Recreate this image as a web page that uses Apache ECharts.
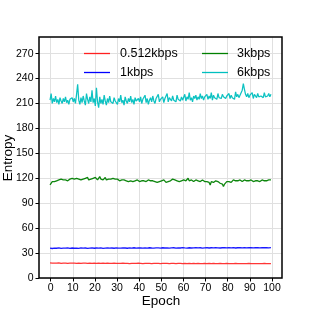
<!DOCTYPE html>
<html><head><meta charset="utf-8">
<script src="https://cdn.jsdelivr.net/npm/echarts@6/dist/echarts.min.js"></script>
<style>html,body{margin:0;padding:0;background:#fff}#c{width:314px;height:314px}</style>
</head><body><div id="c"></div>
<script>
const xTicks = [0,10,20,30,40,50,60,70,80,90,100];
const yTicks = [0,30,60,90,120,150,180,210,240,270];
const seriesNames = ['0.512kbps','1kbps','3kbps','6kbps'];
const epochStepFine = 0.5;
const epochStepCoarse = 1;

const kbps0512 = [18.2,17.9,18.0,17.8,18.1,17.7,17.9,18.0,17.6,17.9,17.8,18.0,17.7,17.9,17.6,17.8,18.0,17.7,17.8,17.6,17.9,17.7,17.8,17.5,17.8,17.6,17.9,17.7,17.5,17.8,17.6,17.7,17.5,17.8,17.6,17.7,17.4,17.7,17.6,17.5,17.8,17.6,17.4,17.7,17.5,17.6,17.4,17.7,17.5,17.6,17.4,17.6,17.5,17.7,17.4,17.6,17.5,17.3,17.6,17.5,17.4,17.6,17.3,17.5,17.4,17.6,17.3,17.5,17.4,17.3,17.5,17.4,17.6,17.3,17.5,17.4,17.2,17.5,17.3,17.4,17.5,17.3,17.4,17.2,17.5,17.3,17.4,17.2,17.4,17.3,17.5,17.2,17.4,17.3,17.2,17.4,17.3,17.5,17.2,17.4,17.3];

const kbps1 = [36.0,35.5,36.0,35.8,36.2,35.6,36.0,35.9,36.3,35.7,36.1,35.8,36.0,35.6,36.2,35.9,36.1,35.7,36.0,36.3,35.8,36.1,35.9,36.2,35.7,36.0,36.3,35.9,36.1,35.8,36.2,36.0,35.9,36.3,36.1,35.8,36.2,36.0,36.4,35.9,36.1,36.3,36.0,36.2,35.9,36.4,36.1,36.0,36.3,36.2,36.0,36.4,36.1,36.3,35.9,36.2,36.4,36.0,36.3,36.1,36.5,36.2,36.0,36.4,36.1,36.3,36.5,36.2,36.4,36.0,36.3,36.5,36.1,36.4,36.2,36.5,36.3,36.1,36.4,36.6,36.2,36.4,36.3,36.5,36.1,36.4,36.6,36.3,36.5,36.2,36.4,36.6,36.3,36.5,36.4,36.2,36.6,36.4,36.5,36.3,36.5];

const kbps3 = [
112,114,116,117,116,118,117,116,118,117,119,117,118,116,118,119,117,118,119,118,120,
118,119,117,120,118,119,121,118,120,119,118,120,119,121,118,120,119,118,120,119,
121,119,118,120,122,119,120,118,119,121,118,120,119,117,119,118,120,118,119,117,
119,118,117,119,118,116,118,119,117,118,116,118,117,119,116,118,117,116,118,117,
116,118,117,115,117,118,116,117,118,116,117,115,117,118,116,117,115,117,116,118,
117,116,118,117,115,117,116,118,117,116,119,117,118,116,117,119,116,118,117,116,
118,119,117,118,120,117,116,118,117,116,117,118,116,117,118,116,117,118,117,116,
117,116,118,115,112,116,117,115,116,117,115,116,117,114,116,113,110,113,115,116,
118,116,117,115,117,118,116,117,115,117,116,118,117,116,117,118,116,117,115,117,
116,118,117,116,118,117,115,117,118,116,117,118,116,117,119,117,116,118,117,118];

const kbps6 = [
214,222,210,216,212,219,211,215,209,217,213,210,216,212,218,211,214,209,215,213,217,
212,216,210,221,233,214,209,217,211,219,213,208,222,215,210,218,212,226,211,216,
207,229,212,205,218,210,215,209,220,213,208,216,211,219,212,214,210,217,213,215,
209,216,212,220,211,214,208,218,213,210,216,212,219,211,215,209,217,213,211,216,
212,218,210,215,213,220,211,216,209,214,217,212,219,213,210,216,214,221,212,215,
213,218,211,216,214,222,212,217,215,213,219,214,216,212,220,215,217,213,218,214,
216,221,213,218,215,223,214,217,212,219,216,220,214,218,215,222,216,219,214,218,
217,221,215,219,216,223,214,220,217,218,215,222,217,219,216,221,218,220,216,219,
218,222,216,220,217,219,215,224,218,221,217,220,222,226,234,227,221,218,222,217,
220,218,223,216,221,219,217,222,218,220,219,221,217,223,218,220,219,222,218,221];

const colors = ['#ff2020','#0000ff','#008000','#00bfbf'];
function pts(arr, step){ return arr.map((v,i)=>[i*step, v]); }

const font = 'Liberation Sans, Arial, sans-serif';
const chart = echarts.init(document.getElementById('c'), null, {renderer:'canvas'});
const L=39, R=282, T=37, B=278;
const x0px = 50.7, x100px = 272;
const yTopTick = B - 270*(B-T)/290;

const legendItems = [
  {name:seriesNames[0], c:colors[0], lx:84, tx:120, y:53.5},
  {name:seriesNames[1], c:colors[1], lx:84, tx:120, y:72.5},
  {name:seriesNames[2], c:colors[2], lx:202, tx:237, y:53.5},
  {name:seriesNames[3], c:colors[3], lx:202, tx:237, y:72.5}
];
const graphic = [];
legendItems.forEach(it=>{
  graphic.push({type:'line', shape:{x1:it.lx,y1:it.y,x2:it.lx+26,y2:it.y}, style:{stroke:it.c,lineWidth:1.3}, z:100});
  graphic.push({type:'text', x:it.tx, y:it.y, style:{text:it.name, font:'12.5px '+font, fill:'#000', textVerticalAlign:'middle', textBaseline:'middle'}, z:100});
});
graphic.push({type:'text', x:161, y:301.5, style:{text:'Epoch', font:'13.5px '+font, fill:'#000', textAlign:'center', textVerticalAlign:'middle', textBaseline:'middle'}});
graphic.push({type:'text', x:8, y:158, rotation:Math.PI/2, style:{text:'Entropy', font:'13.5px '+font, fill:'#000', textAlign:'center', textVerticalAlign:'middle', textBaseline:'middle'}});

const hiddenAxis = {show:true, axisLine:{show:false}, axisTick:{show:false}, axisLabel:{show:false}, splitLine:{show:false}};
const gridLine = {show:true, lineStyle:{color:'#e0e0e0', width:1}};

chart.setOption({
  animation:false,
  backgroundColor:'#fff',
  grid:[
    {left:L, right:314-R, top:T, bottom:314-B, show:true, borderColor:'#000', borderWidth:1.5, backgroundColor:'transparent', z:5},
    {left:x0px, right:314-x100px, top:T, bottom:314-B},
    {left:L, right:314-R, top:yTopTick, bottom:314-B}
  ],
  xAxis:[
    Object.assign({type:'value', gridIndex:0, min:-5, max:105}, hiddenAxis),
    {type:'value', gridIndex:1, min:xTicks[0], max:xTicks[xTicks.length-1], interval:10,
     axisLine:{show:false}, axisTick:{show:true, length:3.5, inside:false, lineStyle:{color:'#000', width:1}},
     axisLabel:{show:true, margin:4.5, fontSize:10.5, fontFamily:font, color:'#000'}, splitLine:gridLine},
    Object.assign({type:'value', gridIndex:2, min:0, max:1}, hiddenAxis)
  ],
  yAxis:[
    Object.assign({type:'value', gridIndex:0, min:0, max:290}, hiddenAxis),
    Object.assign({type:'value', gridIndex:1, min:0, max:290}, hiddenAxis),
    {type:'value', gridIndex:2, min:yTicks[0], max:yTicks[yTicks.length-1], interval:30,
     axisLine:{show:false}, axisTick:{show:true, length:3.5, inside:false, lineStyle:{color:'#000', width:1}},
     axisLabel:{show:true, margin:5.5, fontSize:10.5, fontFamily:font, color:'#000'}, splitLine:gridLine}
  ],
  graphic: graphic,
  series:[
    {name:seriesNames[0], type:'line', xAxisIndex:0, yAxisIndex:0, data:pts(kbps0512, epochStepCoarse), showSymbol:false, lineStyle:{color:colors[0], width:1.3, opacity:0.9}, z:10},
    {name:seriesNames[1], type:'line', xAxisIndex:0, yAxisIndex:0, data:pts(kbps1, epochStepCoarse), showSymbol:false, lineStyle:{color:colors[1], width:1.3, opacity:0.9}, z:10},
    {name:seriesNames[2], type:'line', xAxisIndex:0, yAxisIndex:0, data:pts(kbps3, epochStepFine), showSymbol:false, lineStyle:{color:colors[2], width:1.3, opacity:0.95}, z:10},
    {name:seriesNames[3], type:'line', xAxisIndex:0, yAxisIndex:0, data:pts(kbps6, epochStepFine), showSymbol:false, lineStyle:{color:colors[3], width:1.25, opacity:0.95}, z:10}
  ]
});
</script></body></html>
